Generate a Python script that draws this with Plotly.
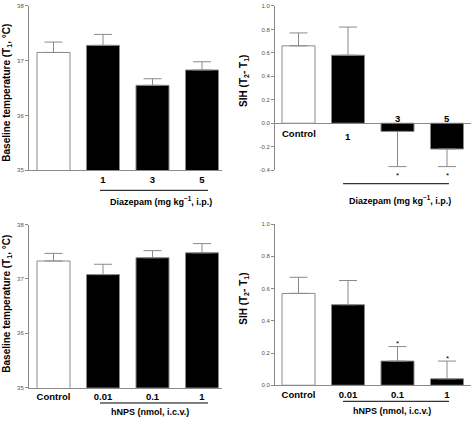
import plotly.graph_objects as go

# ---- data ----
diaz_labels = ["Control", "1", "3", "5"]
diaz_temp = [37.15, 37.28, 36.55, 36.83]
diaz_temp_err = [0.19, 0.20, 0.12, 0.15]
diaz_sih = [0.66, 0.58, -0.07, -0.22]
diaz_sih_err = [0.11, 0.24, 0.30, 0.15]
diaz_sig = [False, False, True, True]

hnps_labels = ["Control", "0.01", "0.1", "1"]
hnps_temp = [37.33, 37.08, 37.39, 37.48]
hnps_temp_err = [0.14, 0.19, 0.13, 0.17]
hnps_sih = [0.57, 0.50, 0.15, 0.04]
hnps_sih_err = [0.10, 0.15, 0.09, 0.11]
hnps_sig = [False, False, True, True]

temp_ticks = [35, 36, 37, 38]
sih_ticks_top = [-0.4, -0.2, 0.0, 0.2, 0.4, 0.6, 0.8, 1.0]
sih_ticks_bot = [0.0, 0.2, 0.4, 0.6, 0.8, 1.0]

W, H = 472, 426
GRAY = "#8a8a8a"
FONT = "Liberation Sans, Arial, sans-serif"
xpos = list(range(4))
fills = ["white", "black", "black", "black"]


def errs(vals, e):
    up = [err if v >= 0 else 0 for v, err in zip(vals, e)]
    dn = [0 if v >= 0 else err for v, err in zip(vals, e)]
    return up, dn


fig = go.Figure()
panels = [
    ("x", "y", diaz_temp, diaz_temp_err),
    ("x2", "y2", diaz_sih, diaz_sih_err),
    ("x3", "y3", hnps_temp, hnps_temp_err),
    ("x4", "y4", hnps_sih, hnps_sih_err),
]
for xa, ya, vals, e in panels:
    up, dn = errs(vals, e)
    fig.add_trace(go.Bar(
        x=xpos, y=vals, xaxis=xa, yaxis=ya, width=0.667,
        marker=dict(color=fills, line=dict(color=GRAY, width=1)),
        error_y=dict(type="data", symmetric=False, array=up, arrayminus=dn,
                     color=GRAY, thickness=1, width=9),
        showlegend=False, hoverinfo="skip",
    ))


def px_x(a, b):
    return [a / W, b / W]


def px_y(top, bottom):
    return [1 - bottom / H, 1 - top / H]


left_x = px_x(29, 222)
right_x = px_x(275, 471)
left_range = [(29 - 53.5) / 49.5, (222 - 53.5) / 49.5]
right_range = [(275 - 298.5) / 49.5, (471 - 298.5) / 49.5]

tickfont = dict(family=FONT, size=6, color="#555")
catfont = dict(family=FONT, size=9.5, color="black")

yax_common = dict(showline=True, linecolor=GRAY, linewidth=1, ticks="outside",
                  ticklen=3, tickcolor=GRAY, tickfont=tickfont, showgrid=False)
xax_common = dict(showgrid=False, zeroline=False, ticks="", fixedrange=True)

fig.update_layout(
    width=W, height=H, margin=dict(l=0, r=0, t=0, b=0),
    paper_bgcolor="white", plot_bgcolor="white",
    font=dict(family=FONT),
    xaxis=dict(domain=left_x, range=left_range, anchor="y", showline=True,
               linecolor=GRAY, tickvals=xpos[1:],
               ticktext=["<b>" + t + "</b>" for t in diaz_labels[1:]],
               tickfont=catfont, **xax_common),
    yaxis=dict(domain=px_y(3, 169.5), range=[35, 38], anchor="x", zeroline=False,
               tickvals=temp_ticks, ticktext=[str(t) for t in temp_ticks], **yax_common),
    xaxis2=dict(domain=right_x, range=right_range, anchor="y2", showline=False,
                showticklabels=False, **xax_common),
    yaxis2=dict(domain=px_y(3, 169.5), range=[-0.4, 1.0], anchor="x2",
                tickvals=sih_ticks_top, ticktext=[f"{t:.1f}" for t in sih_ticks_top],
                zeroline=True, zerolinecolor=GRAY, zerolinewidth=1, **yax_common),
    xaxis3=dict(domain=left_x, range=left_range, anchor="y3", showline=True,
                linecolor=GRAY, tickvals=xpos,
                ticktext=["<b>" + t + "</b>" for t in hnps_labels],
                tickfont=catfont, **xax_common),
    yaxis3=dict(domain=px_y(224.7, 390.3), range=[35, 38], anchor="x3", zeroline=False,
                tickvals=temp_ticks, ticktext=[str(t) for t in temp_ticks], **yax_common),
    xaxis4=dict(domain=right_x, range=right_range, anchor="y4", showline=True,
                linecolor=GRAY, tickvals=xpos,
                ticktext=["<b>" + t + "</b>" for t in hnps_labels],
                tickfont=catfont, **xax_common),
    yaxis4=dict(domain=px_y(224.3, 387.7), range=[0, 1.0], anchor="x4", zeroline=False,
                tickvals=sih_ticks_bot, ticktext=[f"{t:.1f}" for t in sih_ticks_bot],
                **yax_common),
)

ann = []
ytitle_font = dict(family=FONT, size=10, color="black")
# y-axis titles
for cx, cy, t in [
    (7, 91, "<b>Baseline temperature (T<sub>1</sub>, °C)</b>"),
    (244, 79, "<b>SIH (T<sub>2</sub>- T<sub>1</sub>)</b>"),
    (7, 305, "<b>Baseline temperature (T<sub>1</sub>, °C)</b>"),
    (244, 300, "<b>SIH (T<sub>2</sub>- T<sub>1</sub>)</b>"),
]:
    ann.append(dict(x=cx / W, y=1 - cy / H, xref="paper", yref="paper", textangle=-90,
                    xanchor="center", yanchor="middle", text=t, showarrow=False,
                    font=ytitle_font))

# panel 2 category labels around the zero line
shifts = [-10, -13, 5, 5]
for i, (lab, s) in enumerate(zip(diaz_labels, shifts)):
    ann.append(dict(x=i, y=0, xref="x2", yref="y2", text="<b>" + lab + "</b>",
                    xanchor="center", yanchor="middle",
                    showarrow=False, yshift=s, font=catfont))

# significance stars
starfont = dict(family=FONT, size=8, color="black")
for i, (v, e, sig) in enumerate(zip(diaz_sih, diaz_sih_err, diaz_sig)):
    if sig:
        ann.append(dict(x=i, y=v - e, xref="x2", yref="y2", text="*", showarrow=False,
                        xanchor="center", yanchor="middle", yshift=-9, font=starfont))
for i, (v, e, sig) in enumerate(zip(hnps_sih, hnps_sih_err, hnps_sig)):
    if sig:
        ann.append(dict(x=i, y=v + e, xref="x4", yref="y4", text="*", showarrow=False,
                        xanchor="center", yanchor="middle", yshift=3, font=starfont))

# group titles
titles = [
    (161, 201, "<b>Diazepam (mg kg<sup>−1</sup>, i.p.)</b>"),
    (400, 200, "<b>Diazepam (mg kg<sup>−1</sup>, i.p.)</b>"),
    (150, 415, "<b>hNPS (nmol, i.c.v.)</b>"),
    (392, 414, "<b>hNPS (nmol, i.c.v.)</b>"),
]
for cx, cy, t in titles:
    ann.append(dict(x=cx / W, y=1 - cy / H, xref="paper", yref="paper", text=t,
                    xanchor="center", yanchor="middle",
                    showarrow=False, font=dict(family=FONT, size=9, color="black")))

fig.update_layout(annotations=ann)

# group underlines (x in data units, y in paper)
lines = [
    ("x", 0.94, 3.12, 190),
    ("x2", 0.90, 3.04, 183.3),
    ("x3", 0.94, 3.12, 405.7),
    ("x4", 0.90, 3.04, 404),
]
for xr, a, b, py in lines:
    fig.add_shape(type="line", xref=xr, yref="paper", x0=a, x1=b,
                  y0=1 - py / H, y1=1 - py / H, line=dict(color="black", width=1))

fig.write_html("out.html", config={"displayModeBar": False},
               post_script="document.body.style.margin='0';document.body.style.overflow='hidden';")
